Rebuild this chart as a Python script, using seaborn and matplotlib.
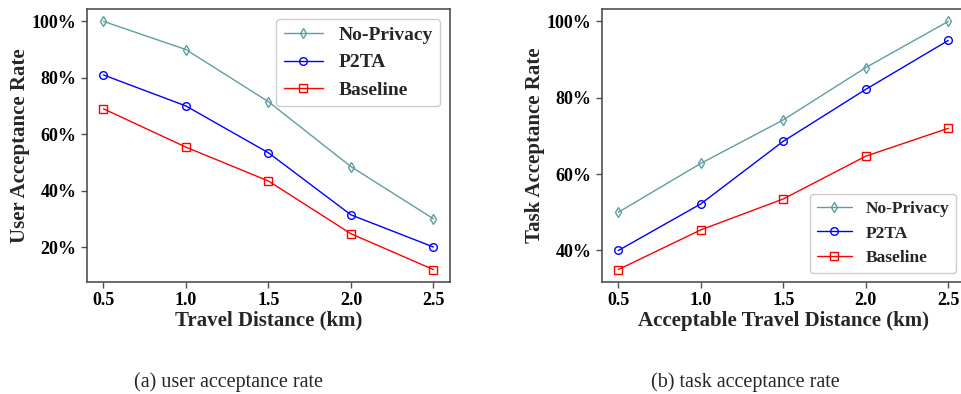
import numpy as np
import pandas as pd
import matplotlib
matplotlib.use('Agg')
import matplotlib.pyplot as plt
from matplotlib.ticker import FuncFormatter
import seaborn as sns

# ---- data ----
distance = [0.5, 1.0, 1.5, 2.0, 2.5]

user_no_privacy = [100, 90, 71.5, 48.5, 30]
user_p2ta = [81, 70, 53.4, 31.4, 20]
user_baseline = [69, 55.4, 43.4, 24.7, 12]

task_no_privacy = [50, 62.8, 74.2, 87.9, 100]
task_p2ta = [40, 52.2, 68.6, 82.2, 95]
task_baseline = [35, 45.4, 53.5, 64.7, 72]

series_names = ['No-Privacy', 'P2TA', 'Baseline']
series_colors = ['#5F9EA0', '#0000FF', '#FF0000']
series_markers = ['d', 'o', 's']

sns.set_style('ticks')
plt.rcParams['font.family'] = ['Liberation Serif', 'DejaVu Serif']
plt.rcParams['font.weight'] = 'bold'
plt.rcParams['axes.edgecolor'] = '#505050'
plt.rcParams['xtick.color'] = '#505050'
plt.rcParams['ytick.color'] = '#505050'
plt.rcParams['xtick.labelcolor'] = 'black'
plt.rcParams['ytick.labelcolor'] = 'black'

fig = plt.figure(figsize=(9.62, 3.94), dpi=100)
ax1 = fig.add_axes([0.0904, 0.2843, 0.3773, 0.693])
ax2 = fig.add_axes([0.6256, 0.2843, 0.3773, 0.693])


def draw(ax, values, yticks, xlabel, ylabel, legend_loc, legend_size):
    for name, vals, col, mk in zip(series_names, values, series_colors, series_markers):
        df = pd.DataFrame({'x': distance, 'y': vals})
        sns.lineplot(data=df, x='x', y='y', ax=ax, color=col, marker=mk,
                     markersize=5.5, markerfacecolor='none', markeredgecolor=col,
                     markeredgewidth=1.0, linewidth=1.0, label=name)
    ax.set_xticks(distance)
    ax.set_yticks(yticks)
    ax.yaxis.set_major_formatter(FuncFormatter(lambda v, p: f'{v:.0f}%'))
    ax.tick_params(labelsize=13, width=1.0, length=4)
    for lab in ax.get_xticklabels() + ax.get_yticklabels():
        lab.set_fontweight('bold')
    ax.set_xlabel(xlabel, fontsize=15, fontweight='bold', labelpad=1)
    ax.set_ylabel(ylabel, fontsize=15, fontweight='bold', labelpad=1)
    for sp in ax.spines.values():
        sp.set_linewidth(1.2)
    ax.legend(loc=legend_loc, prop={'size': legend_size, 'weight': 'bold'},
              handlelength=2.0, framealpha=1)


draw(ax1, [user_no_privacy, user_p2ta, user_baseline], [20, 40, 60, 80, 100],
     'Travel Distance (km)', 'User Acceptance Rate', 'upper right', 14)
draw(ax2, [task_no_privacy, task_p2ta, task_baseline], [40, 60, 80, 100],
     'Acceptable Travel Distance (km)', 'Task Acceptance Rate', 'lower right', 12.5)

fig.text(228.5 / 962, 1 - 382 / 394, '(a) user acceptance rate', ha='center', va='center',
         fontsize=14.5, fontweight='normal')
fig.text(745 / 962, 1 - 382 / 394, '(b) task acceptance rate', ha='center', va='center',
         fontsize=14.5, fontweight='normal')

fig.savefig('out.png', dpi=100)
